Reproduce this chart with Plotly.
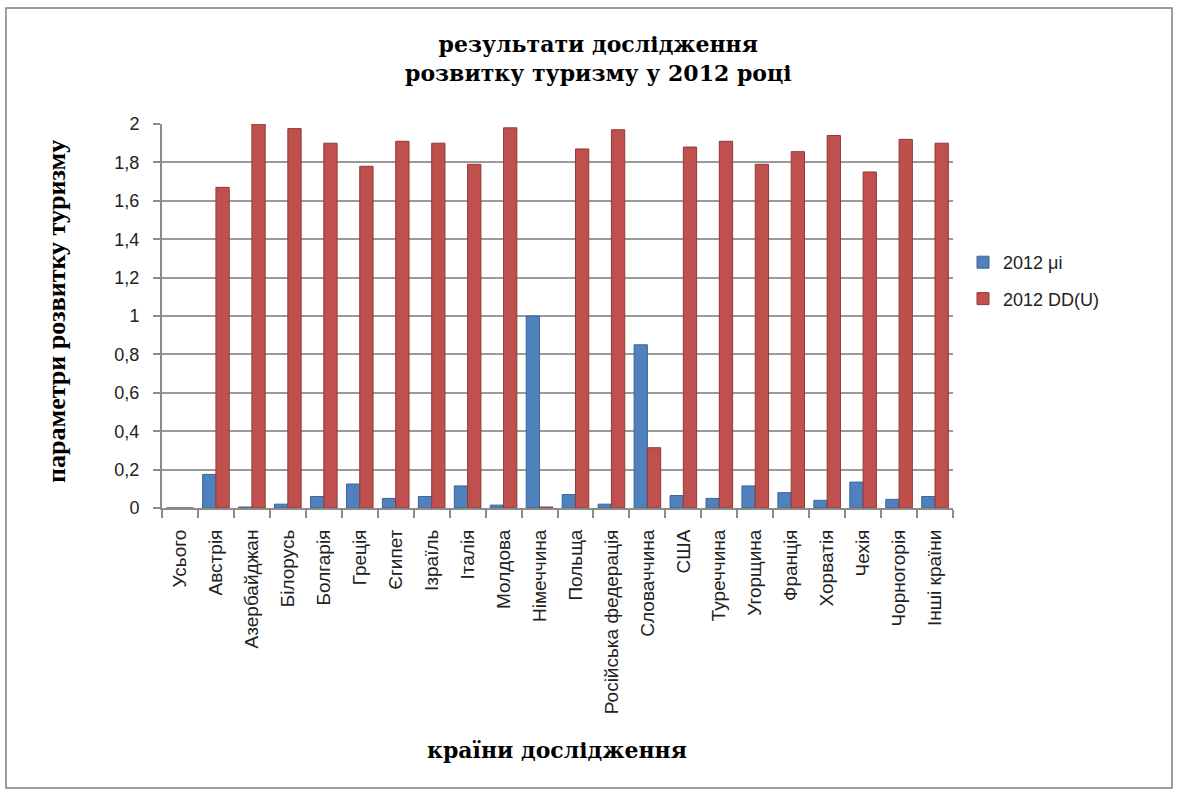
import plotly.graph_objects as go

categories = ["Усього", "Австрія", "Азербайджан", "Білорусь", "Болгарія", "Греція", "Єгипет",
              "Ізраїль", "Італія", "Молдова", "Німеччина", "Польща", "Російська федерація",
              "Словаччина", "США", "Туреччина", "Угорщина", "Франція", "Хорватія", "Чехія",
              "Чорногорія", "Інші країни"]
mu_i = [0, 0.175, 0.005, 0.02, 0.06, 0.125, 0.05, 0.06, 0.115, 0.015, 1.0, 0.07, 0.02,
        0.85, 0.065, 0.05, 0.115, 0.08, 0.04, 0.135, 0.045, 0.06]
dd_u = [0, 1.67, 2.0, 1.976, 1.90, 1.78, 1.91, 1.90, 1.79, 1.98, 0.005, 1.87, 1.97,
        0.314, 1.88, 1.91, 1.79, 1.856, 1.94, 1.75, 1.92, 1.90]
series_names = ["2012 μi", "2012 DD(U)"]
y_ticks = [0, 0.2, 0.4, 0.6, 0.8, 1, 1.2, 1.4, 1.6, 1.8, 2]

W, H = 1180, 793
px0, px1, py0, py1 = 162, 953, 124, 508

fig = go.Figure()
fig.add_trace(go.Bar(x=categories, y=mu_i, name=series_names[0], legendgroup="a",
                     marker=dict(color="#4F81BD", line=dict(color="#3A6699", width=1))))
fig.add_trace(go.Bar(x=categories, y=dd_u, name=series_names[1], legendgroup="b",
                     marker=dict(color="#C0504D", line=dict(color="#8E3B39", width=1))))

fig.update_layout(
    width=W, height=H,
    margin=dict(l=0, r=0, t=0, b=0, autoexpand=False),
    paper_bgcolor="white", plot_bgcolor="white",
    barmode="group", bargap=0.26, bargroupgap=0,
    separators=",.",
    font=dict(family="Liberation Sans, Arial, sans-serif", color="#222"),
    xaxis=dict(domain=[px0 / W, px1 / W], type="category", tickangle=-90,
               tickfont=dict(size=19), showgrid=False, showline=True,
               linecolor="#8c8c8c", linewidth=2, ticks="outside", tickson="boundaries",
               ticklen=8, tickcolor="#8c8c8c", tickwidth=2, automargin=False,
               ticklabelstandoff=12),
    yaxis=dict(domain=[1 - py1 / H, 1 - py0 / H], range=[0, 2], tickvals=y_ticks,
               tickfont=dict(size=18), showgrid=True, gridcolor="#9a9a9a", gridwidth=2,
               showline=True, linecolor="#8c8c8c", linewidth=2, ticks="outside",
               ticklen=7, tickcolor="#8c8c8c", tickwidth=2, zeroline=False,
               automargin=False, ticklabelstandoff=10),
    legend=dict(x=963 / W, y=1 - 244 / H, xanchor="left", yanchor="top",
                font=dict(size=18), tracegroupgap=10, itemwidth=30,
                bgcolor="rgba(0,0,0,0)"),
    showlegend=True,
)

serif_wide = "DejaVu Serif, Liberation Serif, serif"
fig.add_annotation(text="<b>результати дослідження<br>розвитку туризму у 2012 році</b>",
                   x=598 / W, y=1 - 59 / H, xref="paper", yref="paper", showarrow=False,
                   xanchor="center", yanchor="middle",
                   font=dict(family=serif_wide, size=22, color="#000"), align="center")
fig.add_annotation(text="<b>параметри розвитку туризму</b>",
                   x=56 / W, y=1 - 312 / H, xref="paper", yref="paper", showarrow=False,
                   xanchor="center", yanchor="middle", textangle=-90,
                   font=dict(family="Liberation Serif, Times New Roman, serif", size=26,
                             color="#000"))
fig.add_annotation(text="<b>країни дослідження</b>",
                   x=557 / W, y=1 - 750 / H, xref="paper", yref="paper", showarrow=False,
                   xanchor="center", yanchor="middle",
                   font=dict(family=serif_wide, size=22, color="#000"))

fig.add_shape(type="rect", xref="paper", yref="paper",
              x0=6 / W, x1=1172 / W, y0=1 - 788 / H, y1=1 - 8 / H,
              line=dict(color="#7f7f7f", width=1.5))

fig.write_html("out.html")
